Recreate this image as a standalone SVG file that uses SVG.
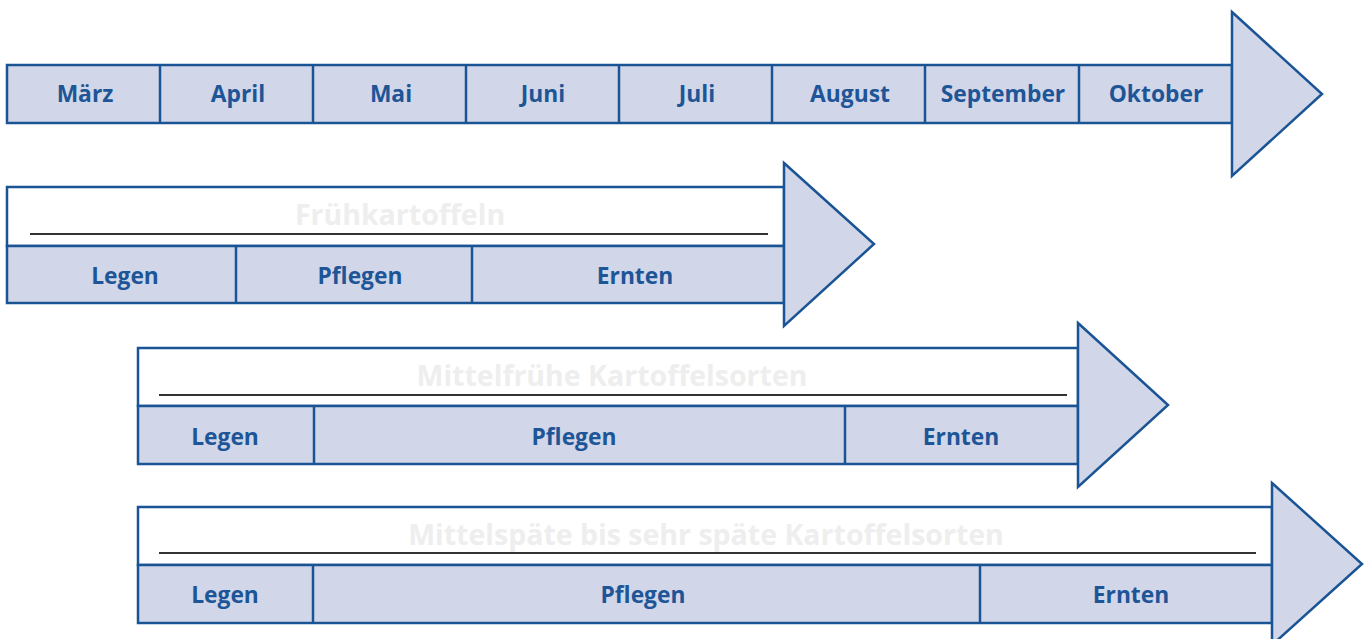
<svg xmlns="http://www.w3.org/2000/svg" width="1370" height="639" viewBox="0 0 1370 639">
<style>
.cell{fill:#d1d6e8;stroke:#1b5495;stroke-width:2.5}
.title{fill:#ffffff;stroke:#1b5495;stroke-width:2.5}
.head{fill:#d1d6e8;stroke:#1b5495;stroke-width:2.5;stroke-linejoin:miter}
.div{stroke:#1b5495;stroke-width:2.5}
.ul{stroke:#333333;stroke-width:2}
.lbl{font-family:"Open Sans","Liberation Sans",sans-serif;font-weight:bold;font-size:22.8px;fill:#1d5597;text-anchor:middle}
.ttl{font-family:"Open Sans","Liberation Sans",sans-serif;font-weight:bold;font-size:28.5px;fill:#eeeeee;text-anchor:middle}
</style>
<rect width="1370" height="639" fill="#ffffff"/>
<g id="timeline">
<rect class="cell" x="7" y="65" width="1225" height="58"/>
<line class="div" x1="160" y1="65" x2="160" y2="123"/>
<line class="div" x1="313" y1="65" x2="313" y2="123"/>
<line class="div" x1="466" y1="65" x2="466" y2="123"/>
<line class="div" x1="619" y1="65" x2="619" y2="123"/>
<line class="div" x1="772" y1="65" x2="772" y2="123"/>
<line class="div" x1="925" y1="65" x2="925" y2="123"/>
<line class="div" x1="1079" y1="65" x2="1079" y2="123"/>
<polygon class="head" points="1232,12 1322,94 1232,176"/>
<text class="lbl" x="85" y="102">März</text>
<text class="lbl" x="238" y="102">April</text>
<text class="lbl" x="391" y="102">Mai</text>
<text class="lbl" x="543" y="102">Juni</text>
<text class="lbl" x="697" y="102">Juli</text>
<text class="lbl" x="850" y="102">August</text>
<text class="lbl" x="1003" y="102">September</text>
<text class="lbl" x="1156" y="102">Oktober</text>
</g>
<g id="fruehkartoffeln">
<rect class="title" x="7" y="187" width="777" height="59"/>
<text class="ttl" x="400" y="225">Frühkartoffeln</text>
<line class="ul" x1="30" y1="234" x2="768" y2="234"/>
<rect class="cell" x="7" y="246" width="777" height="57"/>
<line class="div" x1="236" y1="246" x2="236" y2="303"/>
<line class="div" x1="472" y1="246" x2="472" y2="303"/>
<polygon class="head" points="784,163 874,244 784,326"/>
<text class="lbl" x="125" y="284">Legen</text>
<text class="lbl" x="360" y="284">Pflegen</text>
<text class="lbl" x="635" y="284">Ernten</text>
</g>
<g id="mittelfruehe">
<rect class="title" x="138" y="348" width="940" height="58"/>
<text class="ttl" x="612" y="386">Mittelfrühe Kartoffelsorten</text>
<line class="ul" x1="159" y1="395" x2="1067" y2="395"/>
<rect class="cell" x="138" y="406" width="940" height="58"/>
<line class="div" x1="314" y1="406" x2="314" y2="464"/>
<line class="div" x1="845" y1="406" x2="845" y2="464"/>
<polygon class="head" points="1078,323 1168,405 1078,487"/>
<text class="lbl" x="225" y="445">Legen</text>
<text class="lbl" x="574" y="445">Pflegen</text>
<text class="lbl" x="961" y="445">Ernten</text>
</g>
<g id="mittelspaete">
<rect class="title" x="138" y="507" width="1134" height="58"/>
<text class="ttl" x="706" y="545">Mittelspäte bis sehr späte Kartoffelsorten</text>
<line class="ul" x1="159" y1="553" x2="1256" y2="553"/>
<rect class="cell" x="138" y="565" width="1134" height="58"/>
<line class="div" x1="313" y1="565" x2="313" y2="623"/>
<line class="div" x1="980" y1="565" x2="980" y2="623"/>
<polygon class="head" points="1272,483 1362,564 1272,645"/>
<text class="lbl" x="225" y="603">Legen</text>
<text class="lbl" x="643" y="603">Pflegen</text>
<text class="lbl" x="1131" y="603">Ernten</text>
</g>
</svg>
